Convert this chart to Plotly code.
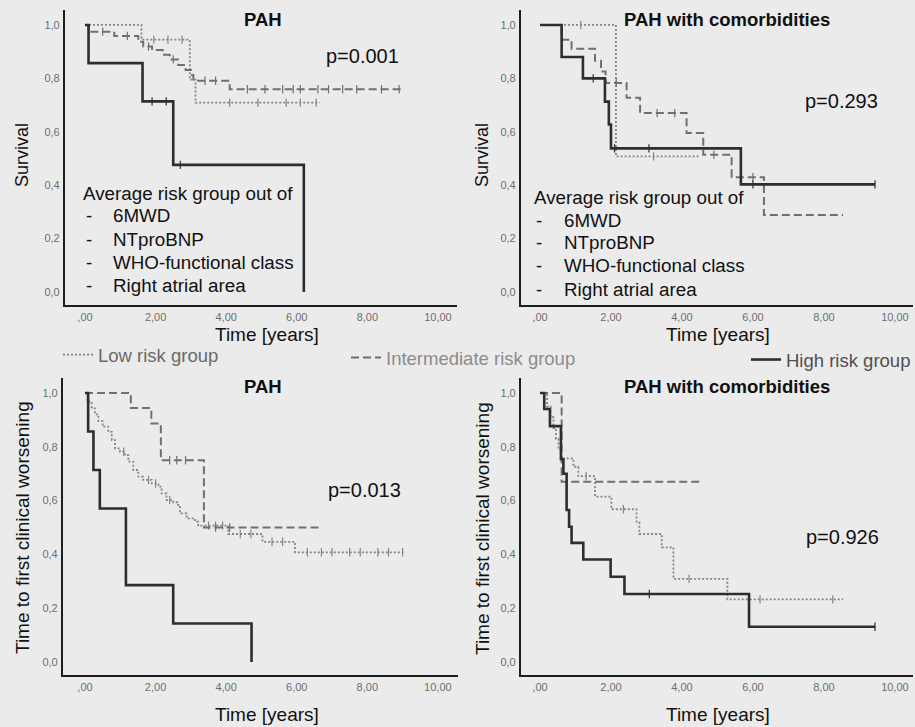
import plotly.graph_objects as go

W, H = 915, 727

# ---------------- data ----------------
# Panel 1: Survival, PAH
s_pah_low_t = [0, 1.60, 2.97, 3.13, 6.65]
s_pah_low_s = [1, 0.945, 0.795, 0.709, 0.709]
s_pah_low_cens = [1.95, 2.35, 2.75, 4.1, 4.9, 5.7, 6.1, 6.55]

s_pah_int_t = [0, 0.10, 0.83, 1.51, 1.65, 1.90, 2.20, 2.40, 2.64, 2.85, 3.00, 3.07, 4.10, 9.02]
s_pah_int_s = [1, 0.975, 0.959, 0.937, 0.919, 0.906, 0.888, 0.871, 0.850, 0.831, 0.813, 0.791, 0.759, 0.759]
s_pah_int_cens = [0.5, 1.2, 1.8, 2.5, 3.4, 3.7, 4.6, 5.1, 5.6, 5.9, 6.1, 6.6, 6.9, 7.3, 7.7, 8.4, 8.9]

s_pah_high_t = [0, 0.10, 1.63, 2.50, 6.20]
s_pah_high_s = [1, 0.857, 0.714, 0.476, 0.0]
s_pah_high_cens = [1.9, 2.3, 2.7]

# Panel 2: Survival, PAH with comorbidities
s_com_low_t = [0, 2.14, 4.50]
s_com_low_s = [1, 0.508, 0.508]
s_com_low_cens = [1.15, 3.2]

s_com_int_t = [0, 0.61, 0.89, 1.55, 1.72, 1.85, 2.44, 2.82, 4.13, 4.60, 5.40, 6.31, 8.54]
s_com_int_s = [1, 0.945, 0.911, 0.866, 0.826, 0.783, 0.727, 0.670, 0.595, 0.514, 0.430, 0.288, 0.288]
s_com_int_cens = [2.15, 3.3, 3.8, 4.9, 6.0]

s_com_high_t = [0, 0.61, 1.21, 1.83, 1.94, 2.00, 5.66, 9.44]
s_com_high_s = [1, 0.880, 0.800, 0.713, 0.627, 0.538, 0.403, 0.403]
s_com_high_cens = [1.5, 2.1, 3.07, 6.0, 9.44]

# Panel 3: Time to first clinical worsening, PAH
w_pah_low_t = [0, 0.066, 0.19, 0.28, 0.38, 0.50, 0.66, 0.76, 0.85, 0.99, 1.13, 1.23, 1.37, 1.51,
               1.65, 1.89, 2.08, 2.17, 2.31, 2.50, 2.64, 2.69, 2.88, 3.12, 3.21, 4.06, 5.03, 5.95, 9.02]
w_pah_low_s = [1, 0.968, 0.943, 0.921, 0.896, 0.875, 0.856, 0.825, 0.794, 0.782, 0.769, 0.745, 0.714, 0.689,
               0.677, 0.664, 0.652, 0.627, 0.602, 0.594, 0.577, 0.553, 0.534, 0.522, 0.507, 0.476, 0.447, 0.408, 0.408]
w_pah_low_cens = [1.1, 1.8, 2.0, 2.4, 3.5, 3.7, 3.9, 4.4, 4.7, 5.3, 5.6, 6.3, 6.7, 7.0, 7.5, 7.8, 8.3, 8.6, 9.0]

w_pah_int_t = [0, 1.30, 1.88, 2.15, 3.37, 6.64]
w_pah_int_s = [1, 0.944, 0.887, 0.750, 0.500, 0.500]
w_pah_int_cens = [2.4, 2.6, 2.85, 3.7, 4.1]

w_pah_high_t = [0, 0.09, 0.24, 0.42, 1.16, 2.50, 4.72]
w_pah_high_s = [1, 0.857, 0.714, 0.571, 0.286, 0.143, 0.0]
w_pah_high_cens = []

# Panel 4: Time to first clinical worsening, PAH with comorbidities
w_com_low_t = [0, 0.20, 0.30, 0.38, 0.45, 0.52, 0.60, 0.94, 1.08, 1.55, 2.01, 2.72, 2.80, 3.43, 3.76, 5.28, 8.54]
w_com_low_s = [1, 0.950, 0.910, 0.870, 0.830, 0.790, 0.757, 0.726, 0.691, 0.615, 0.568, 0.522, 0.476, 0.426, 0.309, 0.233, 0.233]
w_com_low_cens = [1.3, 2.35, 4.2, 6.2, 8.25]

w_com_int_t = [0, 0.61, 4.50]
w_com_int_s = [1, 0.670, 0.670]
w_com_int_cens = []

w_com_high_t = [0, 0.12, 0.28, 0.59, 0.66, 0.75, 0.82, 0.89, 1.22, 1.99, 2.38, 5.89, 9.44]
w_com_high_s = [1, 0.941, 0.877, 0.754, 0.700, 0.565, 0.503, 0.443, 0.381, 0.317, 0.253, 0.131, 0.131]
w_com_high_cens = [3.08, 9.44]

p_values = ["p=0.001", "p=0.293", "p=0.013", "p=0.926"]
panel_titles = ["PAH", "PAH with comorbidities", "PAH", "PAH with comorbidities"]
y_titles = ["Survival", "Survival", "Time to first clinical worsening", "Time to first clinical worsening"]
x_title = "Time [years]"
group_names = ["Low risk group", "Intermediate risk group", "High risk group"]
risk_header = "Average risk group out of"
risk_items = ["6MWD", "NTproBNP", "WHO-functional class", "Right atrial area"]

y_tickvals = [0, 0.2, 0.4, 0.6, 0.8, 1.0]
y_ticktext = ["0,0", "0,2", "0,4", "0,6", "0,8", "1,0"]
x_tickvals = [0, 2, 4, 6, 8, 10]
x_ticktext = [",00", "2,00", "4,00", "6,00", "8,00", "10,00"]

# ---------------- styling ----------------
FONT = "Liberation Sans, Arial, sans-serif"
BG = "#ebebeb"
styles = {
    "low": dict(color="#858585", width=1.8, dash="2px,2px"),
    "int": dict(color="#707070", width=2.0, dash="8px,4px"),
    "high": dict(color="#2e2e2e", width=2.6, dash="solid"),
}

panels = [
    dict(xa="x", ya="y", curves=[
        ("low", s_pah_low_t, s_pah_low_s, s_pah_low_cens),
        ("int", s_pah_int_t, s_pah_int_s, s_pah_int_cens),
        ("high", s_pah_high_t, s_pah_high_s, s_pah_high_cens)]),
    dict(xa="x2", ya="y2", curves=[
        ("low", s_com_low_t, s_com_low_s, s_com_low_cens),
        ("int", s_com_int_t, s_com_int_s, s_com_int_cens),
        ("high", s_com_high_t, s_com_high_s, s_com_high_cens)]),
    dict(xa="x3", ya="y3", curves=[
        ("low", w_pah_low_t, w_pah_low_s, w_pah_low_cens),
        ("int", w_pah_int_t, w_pah_int_s, w_pah_int_cens),
        ("high", w_pah_high_t, w_pah_high_s, w_pah_high_cens)]),
    dict(xa="x4", ya="y4", curves=[
        ("low", w_com_low_t, w_com_low_s, w_com_low_cens),
        ("int", w_com_int_t, w_com_int_s, w_com_int_cens),
        ("high", w_com_high_t, w_com_high_s, w_com_high_cens)]),
]

legend_of = {"low": "legend", "int": "legend2", "high": "legend3"}
name_of = {"low": group_names[0], "int": group_names[1], "high": group_names[2]}


def km_at(times, vals, t):
    v = vals[0]
    for ti, vi in zip(times, vals):
        if ti <= t:
            v = vi
    return v


fig = go.Figure()
for pi, p in enumerate(panels):
    for key, t, s, cens in p["curves"]:
        st = styles[key]
        fig.add_trace(go.Scatter(
            x=t, y=s, mode="lines", line_shape="hv",
            line=dict(color=st["color"], width=st["width"], dash=st["dash"]),
            xaxis=p["xa"], yaxis=p["ya"], name=name_of[key],
            legend=legend_of[key], showlegend=(pi == 0), hoverinfo="skip"))
        if cens:
            fig.add_trace(go.Scatter(
                x=cens, y=[km_at(t, s, c) for c in cens], mode="markers",
                marker=dict(symbol="line-ns", size=6,
                            line=dict(color=st["color"], width=1.2)),
                xaxis=p["xa"], yaxis=p["ya"], showlegend=False, hoverinfo="skip"))


def fx(x):
    return x / W


def fy(y):
    return 1 - y / H


# plot-area geometry in pixels (left, right, top, bottom) and axis ranges
geo = [
    dict(l=65, r=457, t=10, b=305, xr=[-0.567, 10.54], yr=[-0.0487, 1.056]),
    dict(l=521, r=913, t=10, b=305, xr=[-0.535, 10.51], yr=[-0.0487, 1.056]),
    dict(l=63, r=458, t=378, b=675, xr=[-0.623, 10.57], yr=[-0.0483, 1.056]),
    dict(l=521, r=913, t=378, b=675, xr=[-0.535, 10.51], yr=[-0.0483, 1.056]),
]

layout = dict(
    width=W, height=H, margin=dict(l=0, r=0, t=0, b=0, autoexpand=False),
    paper_bgcolor=BG, plot_bgcolor=BG,
    font=dict(family=FONT, color="#1a1a1a"),
)
for i, g in enumerate(geo):
    sfx = "" if i == 0 else str(i + 1)
    layout["xaxis" + sfx] = dict(
        domain=[fx(g["l"]), fx(g["r"])], range=g["xr"], anchor="y" + sfx, automargin=False,
        showline=True, linecolor="#1e1e1e", linewidth=2.2, showgrid=False, zeroline=False,
        tickvals=x_tickvals, ticktext=x_ticktext, ticks="outside", ticklen=1,
        tickcolor="rgba(0,0,0,0)", tickfont=dict(size=11, color="#6e6e6e"))
    layout["yaxis" + sfx] = dict(
        domain=[fy(g["b"]), fy(g["t"])], range=g["yr"], anchor="x" + sfx, automargin=False,
        showline=True, linecolor="#1e1e1e", linewidth=2.2, showgrid=False, zeroline=False,
        tickvals=y_tickvals, ticktext=y_ticktext, ticks="outside", ticklen=1,
        tickcolor="rgba(0,0,0,0)", tickfont=dict(size=11, color="#6e6e6e"))

ann = []


def add_text(x, y, text, size, xanchor="center", bold=False, color="#1a1a1a", angle=0):
    ann.append(dict(x=fx(x), y=fy(y), xref="paper", yref="paper", text=("<b>%s</b>" % text) if bold else text,
                    showarrow=False, xanchor=xanchor, yanchor="middle", textangle=angle,
                    font=dict(size=size, color=color, family=FONT)))


title_pos = [(263, 19), (727, 19), (263, 386), (727, 386)]
p_pos = [(362, 56), (841, 101), (364, 490), (842, 537)]
xt_pos = [(267, 334), (718, 334), (267, 714), (718, 714)]
yt_pos = [(22, 155), (482, 155), (22, 528), (482, 528)]
yt_size = [18, 18, 19, 19]
for i in range(4):
    add_text(*title_pos[i], panel_titles[i], 18.5, bold=True, color="#111")
    add_text(*p_pos[i], p_values[i], 20, color="#111")
    add_text(*xt_pos[i], x_title, 19, color="#111")
    add_text(*yt_pos[i], y_titles[i], yt_size[i], color="#111", angle=-90)

# risk-group text blocks in the two survival panels
blocks = [dict(x=81, dash=84, item=111, y0=193, dy=23), dict(x=532, dash=534, item=562, y0=197, dy=23)]
for b in blocks:
    add_text(b["x"], b["y0"], risk_header, 18.8, xanchor="left", color="#111")
    for k, it in enumerate(risk_items):
        yy = b["y0"] + b["dy"] * (k + 1)
        add_text(b["dash"], yy, "-", 18.8, xanchor="left", color="#111")
        add_text(b["item"], yy, it, 18.8, xanchor="left", color="#111")

layout["annotations"] = ann

leg_common = dict(orientation="h", bgcolor="rgba(0,0,0,0)", borderwidth=0,
                  xanchor="left", yanchor="middle", itemwidth=30)
layout["legend"] = dict(leg_common, x=fx(58), y=fy(355), font=dict(size=18.5, color="#6a6a6a", family=FONT))
layout["legend2"] = dict(leg_common, x=fx(346), y=fy(358), font=dict(size=18.5, color="#8c8c8c", family=FONT))
layout["legend3"] = dict(leg_common, x=fx(746), y=fy(360), font=dict(size=18.5, color="#505050", family=FONT))

fig.update_layout(**layout)
fig.write_html(
    "out.html",
    config={"displayModeBar": False},
    post_script="document.body.style.margin='0';document.body.style.background='%s';" % BG,
)
